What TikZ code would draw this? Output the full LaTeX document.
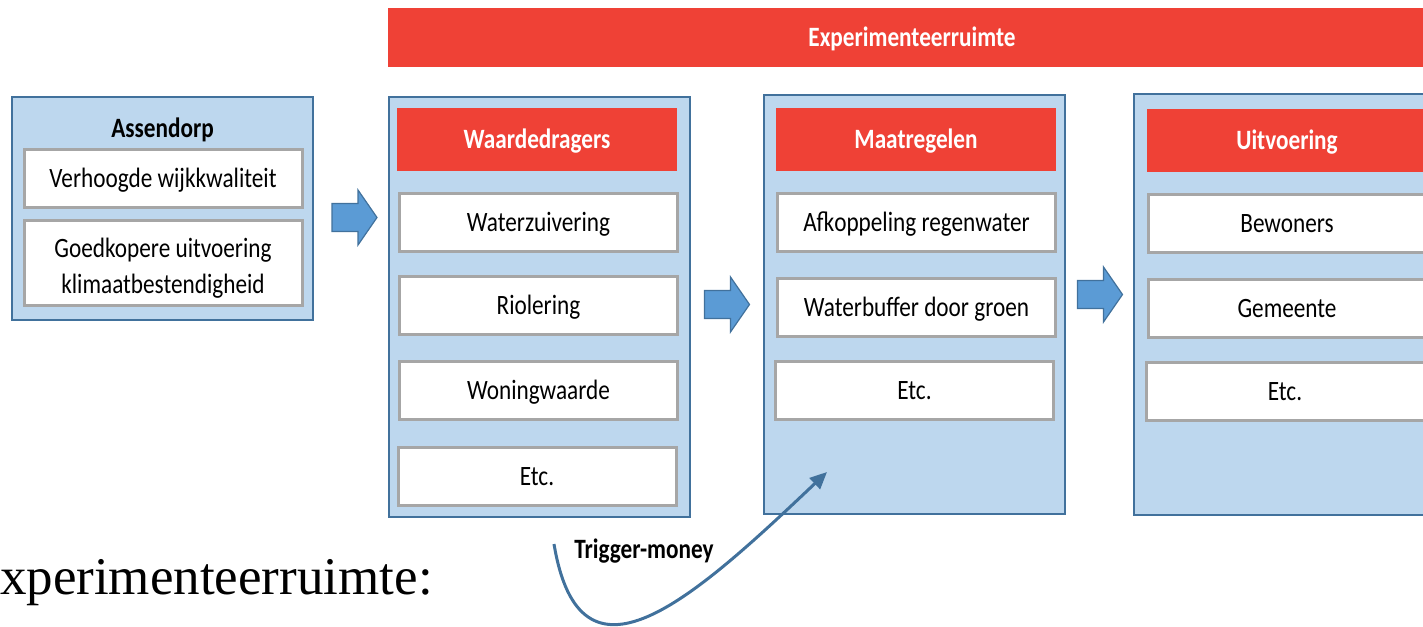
\documentclass[tikz,border=0pt]{standalone}
\usepackage{fontspec}
\setmainfont{Carlito}[FakeStretch=0.83]
\newfontfamily\bodyserif{Liberation Serif}
\usetikzlibrary{arrows.meta}
\definecolor{barred}{HTML}{EF4136}
\definecolor{panelfill}{HTML}{BDD7EE}
\definecolor{panelline}{HTML}{41719C}
\definecolor{itemline}{HTML}{A6A6A6}
\definecolor{arrowfill}{HTML}{5B9BD5}
\begin{document}
\begin{tikzpicture}[x=1pt,y=-1pt,
  every node/.style={inner sep=0pt, outer sep=0pt},
  boxfont/.style={font=\fontsize{28}{36}\selectfont},
  onerow/.style={text height=18pt, text depth=0pt},
  bar/.style={fill=barred, text=white, font=\bfseries\fontsize{28}{36}\selectfont, onerow,
    minimum width=1048pt, minimum height=59pt},
  panel/.style={draw=panelline, line width=2pt, fill=panelfill, minimum width=301pt},
  header/.style={fill=barred, text=white, font=\bfseries\fontsize{28}{36}\selectfont, onerow,
    minimum width=280pt, minimum height=63pt},
  item/.style={draw=itemline, line width=3pt, fill=white, boxfont, onerow,
    minimum width=278pt, minimum height=58pt},
  title/.style={font=\bfseries\fontsize{28}{36}\selectfont, onerow},
  trigger/.style={draw=panelline, line width=3pt, -{Triangle[length=17pt,width=15pt]}},
  blockarrow/.style={draw=panelline, line width=1.2pt, fill=arrowfill, line join=miter},
  pics/flowarrow/.style={code={
    \path[blockarrow] (-22.5,-14) -- (3.5,-14) -- (3.5,-27.5) -- (22.5,0)
      -- (3.5,27.5) -- (3.5,14) -- (-22.5,14) -- cycle;}}
]
\useasboundingbox (0,0) rectangle (1423,626);
\clip (0,0) rectangle (1423,626);

% banner across the three right-hand columns
\node[bar] (banner) at (912,37.5) {Experimenteerruimte};

% Assendorp column
\node[panel, minimum height=223pt] (assen) at (162.5,208.5) {};
\node[title] (assenT) at (162.5,128) {Assendorp};
\node[item] (a1) at (163,178) {Verhoogde wijkkwaliteit};
\node[item, align=center, text height=60pt, text depth=0pt, minimum height=85pt]
  (a2) at (163,263) {Goedkopere uitvoering\\klimaatbestendigheid};

% Waardedragers column
\node[panel, minimum height=420pt] (wd) at (539.5,307) {};
\node[header] (wdH) at (537,139.5) {Waardedragers};
\node[item] (w1) at (538.5,222.5) {Waterzuivering};
\node[item] (w2) at (538.5,305) {Riolering};
\node[item] (w3) at (538.5,390.5) {Woningwaarde};
\node[item] (w4) at (537,476) {Etc.};

% Maatregelen column
\node[panel, minimum height=419pt] (mr) at (914.5,304.5) {};
\node[header] (mrH) at (916,139.5) {Maatregelen};
\node[item] (m1) at (916.5,222.5) {Afkoppeling regenwater};
\node[item] (m2) at (916.5,307.5) {Waterbuffer door groen};
\node[item] (m3) at (914.5,390.5) {Etc.};

% Uitvoering column
\node[panel, minimum height=421pt] (uv) at (1284.5,304.5) {};
\node[header] (uvH) at (1287,140.5) {Uitvoering};
\node[item] (u1) at (1287,223.5) {Bewoners};
\node[item] (u2) at (1287,308) {Gemeente};
\node[item] (u3) at (1285,391) {Etc.};

% block arrows between the columns
\pic at (354.5,217.5) {flowarrow};
\pic at (727,304.5) {flowarrow};
\pic at (1100,294.5) {flowarrow};

% trigger-money curve into the Maatregelen column
\coordinate (trigStart) at (554,544);
\coordinate (trigEnd) at (827,472);
\draw[trigger] (trigStart) .. controls (580,700) and (690,602) .. (trigEnd);
\node[title] (trig) at (644,549) {Trigger-money};

% slide text below the diagram
\node[anchor=base west, font=\bodyserif\fontsize{53}{60}\selectfont] (expl) at (0,594) {xperimenteerruimte:};
\end{tikzpicture}
\end{document}
